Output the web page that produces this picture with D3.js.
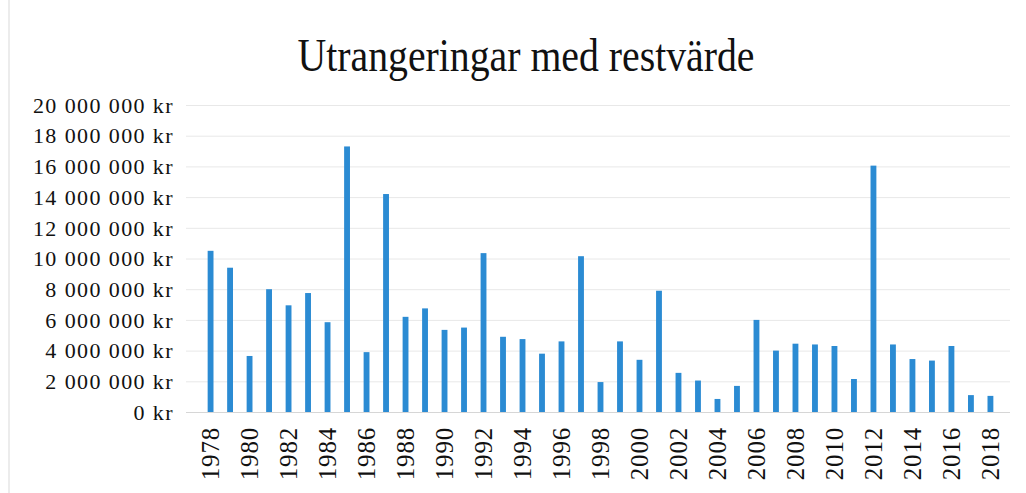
<!DOCTYPE html>
<html>
<head>
<meta charset="utf-8">
<script src="https://cdn.jsdelivr.net/npm/d3@7"></script>
<style>
  body { margin: 0; background: #fff; }
  text { font-family: "Liberation Serif", "DejaVu Serif", serif; fill: #111; }
</style>
</head>
<body>
<div id="chart"></div>
<script>
// data
const years = d3.range(1978, 2019).map(String);
const values = [
  10.5, 9.4, 3.65, 8.0, 6.95, 7.75, 5.85, 17.3, 3.9, 14.2,
  6.2, 6.75, 5.35, 5.5, 10.35, 4.9, 4.75, 3.8, 4.6, 10.15,
  1.95, 4.6, 3.4, 7.9, 2.55, 2.05, 0.85, 1.7, 6.0, 4.0,
  4.45, 4.4, 4.3, 2.15, 16.05, 4.4, 3.45, 3.35, 4.3, 1.1, 1.05
].map(v => v * 1e6);
const yTicks = d3.range(0, 20000001, 2000000);
const xTickYears = years.filter((d, i) => i % 2 === 0);

const width = 1026;
const height = 493;

const svg = d3.select("#chart")
  .append("svg")
  .attr("width", width)
  .attr("height", height);

// faint scan border on the left
svg.append("line")
  .attr("x1", 9).attr("x2", 9)
  .attr("y1", 0).attr("y2", height)
  .attr("stroke", "#ececec")
  .attr("stroke-width", 2);

const x = d3.scaleBand()
  .domain(years)
  .range([194, 1007])
  .padding(0.7);

const y = d3.scaleLinear()
  .domain([0, 20000000])
  .range([412, 105]);

// title (slightly stretched, the original font is narrow and tall)
svg.append("text")
  .attr("transform", "translate(526,71) scale(0.97,1.12)")
  .attr("text-anchor", "middle")
  .style("font-size", "41px")
  .text("Utrangeringar med restvärde");

// gridlines
svg.append("g")
  .selectAll("line")
  .data(yTicks)
  .enter()
  .append("line")
  .attr("x1", 186)
  .attr("x2", 1010)
  .attr("y1", d => y(d) + 0.5)
  .attr("y2", d => y(d) + 0.5)
  .attr("stroke", d => d === 0 ? "#d6d6d6" : "#e8e8e8")
  .attr("stroke-width", 1);

// y axis labels
const fmt = v => d3.format(",")(v).replace(/,/g, " ") + " kr";
svg.append("g")
  .selectAll("text")
  .data(yTicks)
  .enter()
  .append("text")
  .attr("x", 174)
  .attr("y", d => y(d))
  .attr("dy", "0.35em")
  .attr("text-anchor", "end")
  .style("font-size", "22px")
  .style("letter-spacing", "1.4px")
  .text(fmt);

// bars
svg.append("g")
  .selectAll("rect")
  .data(values)
  .enter()
  .append("rect")
  .attr("x", (d, i) => x(years[i]))
  .attr("width", x.bandwidth())
  .attr("y", d => y(d))
  .attr("height", d => y(0) - y(d))
  .attr("fill", "#2b8bd3");

// x labels
svg.append("g")
  .selectAll("text")
  .data(xTickYears)
  .enter()
  .append("text")
  .attr("transform", d => `translate(${x(d) + x.bandwidth() / 2},427) rotate(-90)`)
  .attr("dy", "0.35em")
  .attr("text-anchor", "end")
  .style("font-size", "25px")
  .style("letter-spacing", "0.8px")
  .text(d => d);
</script>
</body>
</html>
